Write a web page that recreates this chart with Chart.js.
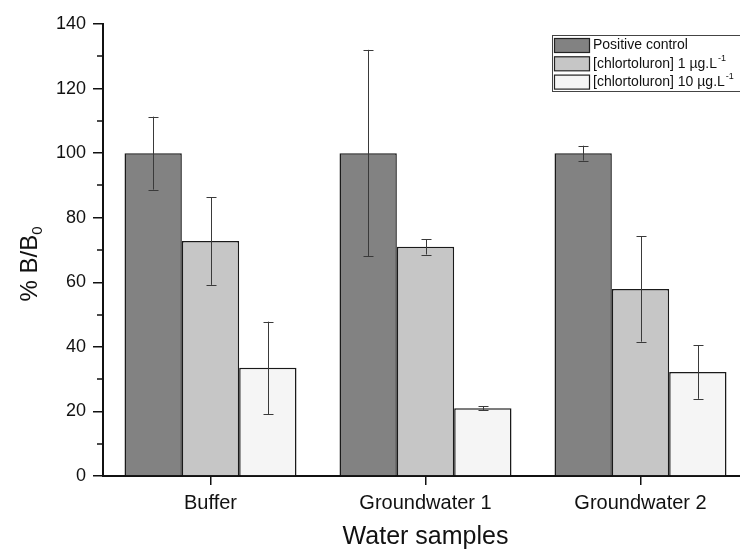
<!DOCTYPE html>
<html>
<head>
<meta charset="utf-8">
<script src="https://cdn.jsdelivr.net/npm/chart.js@4"></script>
<style>
  html, body { margin: 0; padding: 0; overflow: hidden; background: #fff; }
  #wrap { width: 750px; height: 549px; position: relative; }
</style>
</head>
<body>
<div id="wrap"><canvas id="chart"></canvas></div>
<script>
const categories = ['Buffer', 'Groundwater 1', 'Groundwater 2'];
const seriesLabels = ['Positive control', '[chlortoluron] 1 µg.L', '[chlortoluron] 10 µg.L'];
const seriesLabelSup = ['', '-1', '-1'];
const positiveControl = [100, 100, 100];
const chlor1 = [72.8, 71.0, 57.9];
const chlor10 = [33.5, 21.0, 32.2];
const positiveControlErr = [11.3, 32, 2.3];
const chlor1Err = [13.6, 2.4, 16.3];
const chlor10Err = [14.3, 0.6, 8.3];
const yTicks = [0, 20, 40, 60, 80, 100, 120, 140];

const FONT = '"Liberation Sans", Arial, sans-serif';

const errorBars = {
  id: 'errorBars',
  afterDatasetsDraw(chart) {
    const ctx = chart.ctx;
    const y = chart.scales.y;
    ctx.save();
    ctx.strokeStyle = '#3a3a3a';
    ctx.lineWidth = 1;
    chart.data.datasets.forEach((ds, i) => {
      const meta = chart.getDatasetMeta(i);
      meta.data.forEach((bar, j) => {
        const v = ds.data[j], e = ds.err[j];
        const top = y.getPixelForValue(v + e);
        const bot = y.getPixelForValue(v - e);
        const x = Math.round(bar.x) + 0.5;
        ctx.beginPath();
        ctx.moveTo(x, top); ctx.lineTo(x, bot);
        ctx.moveTo(x - 5, Math.round(top) + 0.5); ctx.lineTo(x + 5, Math.round(top) + 0.5);
        ctx.moveTo(x - 5, Math.round(bot) + 0.5); ctx.lineTo(x + 5, Math.round(bot) + 0.5);
        ctx.stroke();
      });
    });
    ctx.restore();
  }
};

const decorations = {
  id: 'decorations',
  afterDraw(chart) {
    const ctx = chart.ctx;
    const y = chart.scales.y;
    const area = chart.chartArea;
    ctx.save();
    // minor ticks
    ctx.strokeStyle = '#111';
    ctx.lineWidth = 1.5;
    for (let i = 0; i < yTicks.length - 1; i++) {
      const py = Math.round(y.getPixelForValue((yTicks[i] + yTicks[i + 1]) / 2));
      ctx.beginPath();
      ctx.moveTo(area.left - 6, py); ctx.lineTo(area.left, py);
      ctx.stroke();
    }
    ctx.fillStyle = '#111';
    // x title
    ctx.font = '25px ' + FONT;
    ctx.textAlign = 'center';
    ctx.textBaseline = 'middle';
    ctx.fillText('Water samples', (area.left + area.right) / 2, 537);
    // y title with subscript
    ctx.translate(28, 264);
    ctx.rotate(-Math.PI / 2);
    const main = '% B/B';
    ctx.font = '24px ' + FONT;
    const w1 = ctx.measureText(main).width;
    ctx.font = '15px ' + FONT;
    const w2 = ctx.measureText('0').width;
    const start = -(w1 + w2) / 2;
    ctx.textAlign = 'left';
    ctx.textBaseline = 'alphabetic';
    ctx.font = '24px ' + FONT;
    ctx.fillText(main, start, 9);
    ctx.font = '15px ' + FONT;
    ctx.fillText('0', start + w1, 14);
    ctx.restore();

    // legend
    ctx.save();
    ctx.fillStyle = '#fff';
    ctx.strokeStyle = '#444';
    ctx.lineWidth = 1;
    ctx.fillRect(552.5, 35.5, 200, 56);
    ctx.strokeRect(552.5, 35.5, 200, 56);
    chart.data.datasets.forEach((ds, i) => {
      const ry = 38 + i * 18.3;
      ctx.fillStyle = ds.backgroundColor;
      ctx.fillRect(554, ry, 35, 14);
      ctx.strokeStyle = '#222';
      ctx.lineWidth = 1.2;
      ctx.strokeRect(554.5, ry + 0.5, 35, 14);
      ctx.fillStyle = '#111';
      ctx.font = '14px ' + FONT;
      ctx.textAlign = 'left';
      ctx.textBaseline = 'middle';
      ctx.fillText(seriesLabels[i], 593, ry + 7.5);
      if (seriesLabelSup[i]) {
        const w = ctx.measureText(seriesLabels[i]).width;
        ctx.font = '9px ' + FONT;
        ctx.fillText(seriesLabelSup[i], 593 + w + 1, ry + 2);
      }
    });
    ctx.restore();
  }
};

const seriesData = [positiveControl, chlor1, chlor10];
const seriesErr = [positiveControlErr, chlor1Err, chlor10Err];
const seriesColors = ['#828282', '#c6c6c6', '#f5f5f5'];

new Chart(document.getElementById('chart'), {
  type: 'bar',
  data: {
    labels: categories,
    datasets: seriesData.map((d, i) => ({
      label: seriesLabels[i],
      data: d,
      err: seriesErr[i],
      backgroundColor: seriesColors[i],
      borderColor: '#1a1a1a',
      borderWidth: 1.5,
      categoryPercentage: 0.8,
      barPercentage: 1.0
    }))
  },
  options: {
    responsive: true,
    maintainAspectRatio: false,
    animation: false,
    layout: { padding: { top: 24, right: 2, left: 0, bottom: 0 } },
    plugins: {
      legend: { display: false },
      tooltip: { enabled: false }
    },
    scales: {
      x: {
        grid: { display: true, drawOnChartArea: false, offset: false, tickLength: 9, color: '#111', lineWidth: 1.5 },
        border: { color: '#111', width: 2 },
        ticks: { color: '#111', font: { family: FONT, size: 20 }, padding: 6 },
        afterFit(scale) { scale.height = 73; }
      },
      y: {
        min: 0,
        max: 140,
        afterBuildTicks(scale) { scale.ticks = yTicks.map(v => ({ value: v })); },
        grid: { drawOnChartArea: false, tickLength: 10, color: '#111', lineWidth: 1.5 },
        border: { color: '#111', width: 2 },
        ticks: { color: '#111', font: { family: FONT, size: 18 }, padding: 7 },
        afterFit(scale) { scale.width = 103; }
      }
    }
  },
  plugins: [errorBars, decorations]
});
</script>
</body>
</html>
